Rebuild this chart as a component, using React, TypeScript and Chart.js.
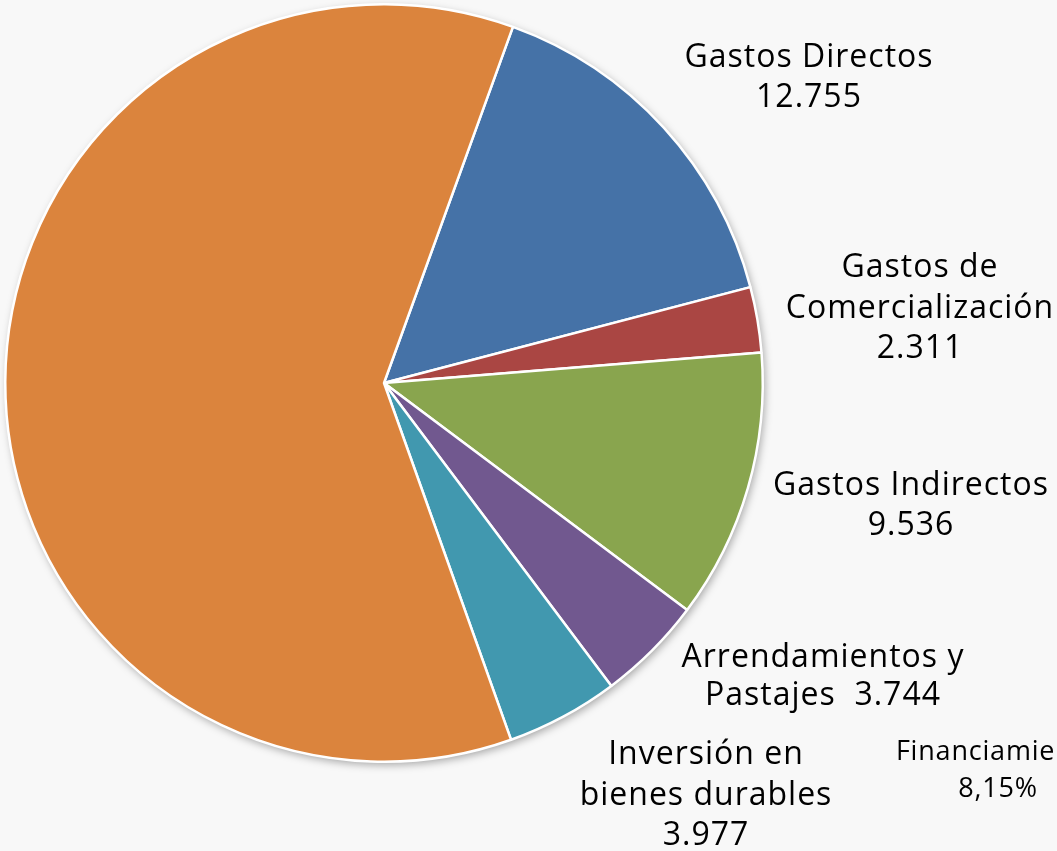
import React, { useEffect, useRef } from "react";
import { Chart, registerables } from "chart.js";

Chart.register(...registerables);

const categories = [
  "Gastos Directos",
  "Gastos de Comercialización",
  "Gastos Indirectos",
  "Arrendamientos y Pastajes",
  "Inversión en bienes durables",
  "Otros",
];
const values = [12755, 2311, 9536, 3744, 3977, 50500];
const colors = ["#4572A7", "#AA4643", "#89A54E", "#71588F", "#4198AF", "#DB843D"];

type Lbl = { lines: string[]; x: number; y: number; gap: number; size: number; spacing: number };
const labels: Lbl[] = [
  { lines: ["Gastos Directos", "12.755"], x: 809, y: 67, gap: 40, size: 32, spacing: 1 },
  { lines: ["Gastos de", "Comercialización", "2.311"], x: 920, y: 277, gap: 40.5, size: 32, spacing: 1 },
  { lines: ["Gastos Indirectos", "9.536"], x: 911, y: 495, gap: 40, size: 32, spacing: 1 },
  { lines: ["Arrendamientos y", "Pastajes  3.744"], x: 823, y: 667, gap: 38, size: 32, spacing: 1 },
  { lines: ["Inversión en", "bienes durables", "3.977"], x: 706, y: 764, gap: 40.5, size: 32, spacing: 1 },
  { lines: ["Financiamiento", "8,15%"], x: 998, y: 760, gap: 37, size: 27, spacing: 0.8 },
];

const FONT = "'Open Sans', sans-serif";

const shadowPlugin = {
  id: "pieShadow",
  beforeDatasetsDraw(chart: any) {
    const arc = chart.getDatasetMeta(0).data[0];
    if (!arc) return;
    const ctx = chart.ctx;
    ctx.save();
    ctx.shadowColor = "rgba(0,0,0,0.35)";
    ctx.shadowBlur = 8;
    ctx.shadowOffsetX = 2;
    ctx.shadowOffsetY = 3;
    ctx.beginPath();
    ctx.arc(arc.x, arc.y, arc.outerRadius, 0, Math.PI * 2);
    ctx.fillStyle = "#ffffff";
    ctx.fill();
    ctx.restore();
  },
};

const labelPlugin = {
  id: "sliceLabels",
  afterDraw(chart: any) {
    const ctx = chart.ctx;
    ctx.save();
    ctx.fillStyle = "#000000";
    ctx.textBaseline = "alphabetic";
    ctx.textAlign = "center";
    labels.forEach((l) => {
      ctx.font = `${l.size}px ${FONT}`;
      (ctx as any).letterSpacing = `${l.spacing}px`;
      l.lines.forEach((t, i) => ctx.fillText(t, l.x, l.y + i * l.gap));
    });
    ctx.restore();
  },
};

export default function App() {
  const ref = useRef<HTMLCanvasElement>(null);
  useEffect(() => {
    const chart = new Chart(ref.current!, {
      type: "pie",
      data: {
        labels: categories,
        datasets: [
          {
            data: values,
            backgroundColor: colors,
            borderColor: "#ffffff",
            borderWidth: 2.5,
          },
        ],
      },
      options: {
        animation: false,
        responsive: true,
        maintainAspectRatio: false,
        rotation: 19.9,
        layout: { padding: { left: 4, top: 3, right: 293, bottom: 88 } },
        plugins: {
          legend: { display: false },
          tooltip: { enabled: false },
        },
      },
      plugins: [shadowPlugin, labelPlugin],
    });
    return () => chart.destroy();
  }, []);
  return (
    <div
      style={{
        position: "fixed",
        left: 0,
        top: 0,
        width: 1057,
        height: 851,
        background: "#f8f8f8",
      }}
    >
      <canvas ref={ref} />
    </div>
  );
}
